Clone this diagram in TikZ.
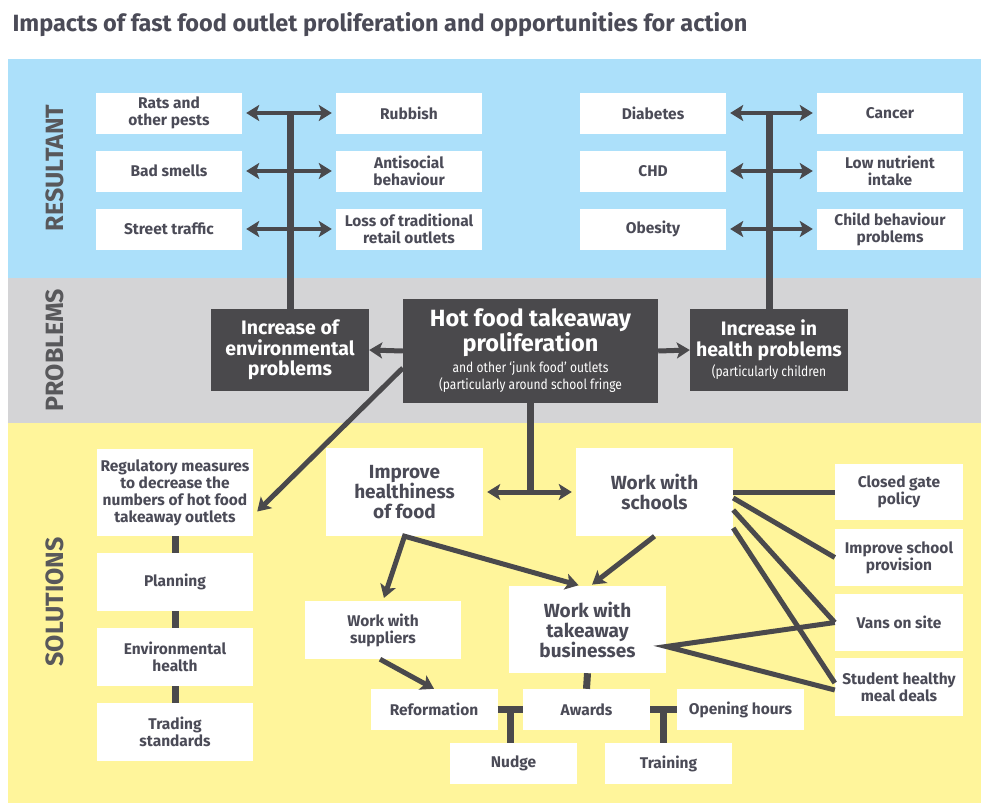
\documentclass[tikz,border=0pt]{standalone}
\usepackage{fontspec}
\setmainfont{Fira Sans}
\newfontfamily\narrowfont[FakeStretch=0.86]{Fira Sans}
\usetikzlibrary{arrows.meta,calc}
\definecolor{bandblue}{HTML}{ACE0FA}
\definecolor{bandgrey}{HTML}{D4D4D6}
\definecolor{bandyellow}{HTML}{FFF59B}
\definecolor{boxdark}{HTML}{4A494C}
\definecolor{boxtext}{HTML}{4B4B57}
\definecolor{sidetext}{HTML}{58585B}
\begin{document}
\begin{tikzpicture}[x=1pt, y=-1pt, line join=miter, >={Stealth[length=13pt,width=16pt,inset=3pt]},
  box/.style={fill=white, text=boxtext, align=center, inner sep=0pt, font=\bfseries\fontsize{15.5}{17}\selectfont},
  rbox/.style={box, minimum width=146pt, minimum height=41pt},
  sbox/.style={box, minimum width=156pt, minimum height=58pt},
  bigbox/.style={box, minimum width=157pt, minimum height=88pt, font=\bfseries\fontsize{19}{20}\selectfont},
  pbox/.style={fill=boxdark, text=white, align=center, inner sep=0pt, minimum width=158pt, minimum height=82pt, font=\bfseries\fontsize{19.5}{20.5}\selectfont},
  side/.style={rotate=90, text=sidetext, font=\bfseries\fontsize{25}{27}\selectfont},
  conn/.style={draw=boxdark, line width=5pt},
  bar/.style={draw=boxdark, line width=7pt}]
  \useasboundingbox (0,0) rectangle (981,803);
  % bands
  \fill[bandblue] (8,59) rectangle (981,278);
  \fill[bandgrey] (8,278) rectangle (981,423);
  \fill[bandyellow] (8,423) rectangle (981,803);
  \node[anchor=west, text=boxtext, font=\bfseries\fontsize{23.5}{25}\selectfont] (title) at (9,25)
    {Impacts of fast food outlet proliferation and opportunities for action};
  \node[side] (lres) at (55,168) {RESULTANT};
  \node[side] (lprob) at (55,350) {PROBLEMS};
  \node[side] (lsol) at (55,602) {SOLUTIONS};

  % resultant
  \node[rbox] (rats) at (169,113) {Rats and\\other pests};
  \node[rbox] (smells) at (169,171) {Bad smells};
  \node[rbox] (traffic) at (169,229) {Street traffic};
  \node[rbox] (rubbish) at (409,113) {Rubbish};
  \node[rbox] (antisoc) at (409,171) {Antisocial\\behaviour};
  \node[rbox] (retail) at (409,229) {Loss of traditional\\retail outlets};
  \node[rbox] (diabetes) at (653,113) {Diabetes};
  \node[rbox] (chd) at (653,171) {CHD};
  \node[rbox] (obesity) at (653,229) {Obesity};
  \node[rbox] (cancer) at (890,113) {Cancer};
  \node[rbox] (nutrient) at (890,171) {Low nutrient\\intake};
  \node[rbox] (childbeh) at (890,229) {Child behaviour\\problems};

  % problems
  \node[pbox] (env) at (290,350) {Increase of\\environmental\\problems};
  \node[pbox, minimum width=255pt, minimum height=104pt, font=\bfseries\fontsize{23.5}{24}\selectfont] (hot) at (530.5,351)
    {Hot food takeaway\\proliferation\\[4pt]
     {\narrowfont\mdseries\fontsize{14}{15.5}\selectfont\begin{tabular}{@{}c@{}}and other ‘junk food’ outlets\\(particularly around school fringe\end{tabular}}};
  \node[pbox] (health) at (769,350) {Increase in\\health problems\\[0pt]{\narrowfont\mdseries\fontsize{14}{15}\selectfont (particularly children}};

  % solutions
  \node[sbox, minimum height=87pt] (reg) at (175,492.5) {Regulatory measures\\to decrease the\\numbers of hot food\\takeaway outlets};
  \node[sbox] (plan) at (175,582) {Planning};
  \node[sbox] (envh) at (175,657) {Environmental\\health};
  \node[sbox] (trade) at (175,732) {Trading\\standards};
  \node[bigbox] (impr) at (404.5,492) {Improve\\healthiness\\of food};
  \node[bigbox] (schools) at (654.5,492) {Work with\\schools};
  \node[box, minimum width=128pt, minimum height=56pt] (gate) at (899,492) {Closed gate\\policy};
  \node[box, minimum width=128pt, minimum height=57pt] (prov) at (899,557.5) {Improve school\\provision};
  \node[box, minimum width=128pt, minimum height=57pt] (vans) at (899,622.5) {Vans on site};
  \node[box, minimum width=128pt, minimum height=58pt] (meal) at (899,687) {Student healthy\\meal deals};
  \node[sbox] (supp) at (383,630) {Work with\\suppliers};
  \node[bigbox, minimum height=87pt] (take) at (587.5,629.5) {Work with\\takeaway\\businesses};
  \node[box, minimum width=127pt, minimum height=41pt] (reform) at (434,709.5) {Reformation};
  \node[box, minimum width=127pt, minimum height=41pt] (awards) at (586.5,709.5) {Awards};
  \node[box, minimum width=127pt, minimum height=41pt] (open) at (740.5,709.5) {Opening hours};
  \node[box, minimum width=127pt, minimum height=41pt] (nudge) at (513.5,763.5) {Nudge};
  \node[box, minimum width=127pt, minimum height=41pt] (train) at (668.5,763.5) {Training};

  % resultant links
  \draw[bar] (env.north) -- ([yshift=2pt]env.north |- rats.east);
  \draw[bar] (health.north) -- ([yshift=2pt]health.north |- diabetes.east);
  \foreach \l/\r in {rats/rubbish, smells/antisoc, traffic/retail, diabetes/cancer, chd/nutrient, obesity/childbeh}
    \draw[conn, line width=4.5pt, <->, shorten <=4pt, shorten >=4pt] (\l.east) -- (\r.west);

  % problem links
  \draw[conn, ->] (hot.west) -- (env.east);
  \draw[conn, ->] (hot.east) -- (health.west);
  \draw[conn, ->] ([yshift=-17pt]hot.west) -- ([xshift=4pt,yshift=-19pt]reg.east);
  \coordinate (hub) at (hot.south |- impr.east);
  \draw[bar] (hot.south) -- (hub);
  \draw[conn, <->, shorten <=4pt, shorten >=4pt] (impr.east) -- (schools.west);

  % solution links
  \draw[bar] (reg.south) -- (plan.north) (plan.south) -- (envh.north) (envh.south) -- (trade.north);
  \draw[conn, <->, shorten <=3pt, shorten >=2pt] (supp.north) -- (impr.south) -- ([xshift=-7pt]take.north);
  \draw[conn, ->, shorten >=2pt] (schools.south) -- ([xshift=3pt]take.north);
  \draw[conn] (schools.east) -- (gate.west);
  \draw[conn] ([yshift=-6pt]schools.east) -- (prov.west);
  \draw[conn] ([yshift=-18pt]schools.east) -- (vans.west);
  \draw[conn] ([yshift=-36pt]schools.east) -- ([yshift=4pt]meal.west);
  \draw[conn] (vans.west) -- ([yshift=-17pt]take.east) -- ([yshift=-3pt]meal.west);
  \draw[conn, ->] ([xshift=-3pt]supp.south) -- (reform.north);
  \draw[bar] (take.south) -- (awards.north);
  \coordinate (t1) at ($(reform.east)!0.5!(awards.west)$);
  \coordinate (t2) at ($(awards.east)!0.5!(open.west)$);
  \draw[bar] (reform.east) -- (awards.west) (t1) -- (t1 |- nudge.north);
  \draw[bar] (awards.east) -- (open.west) (t2) -- (t2 |- train.north);
\end{tikzpicture}
\end{document}
